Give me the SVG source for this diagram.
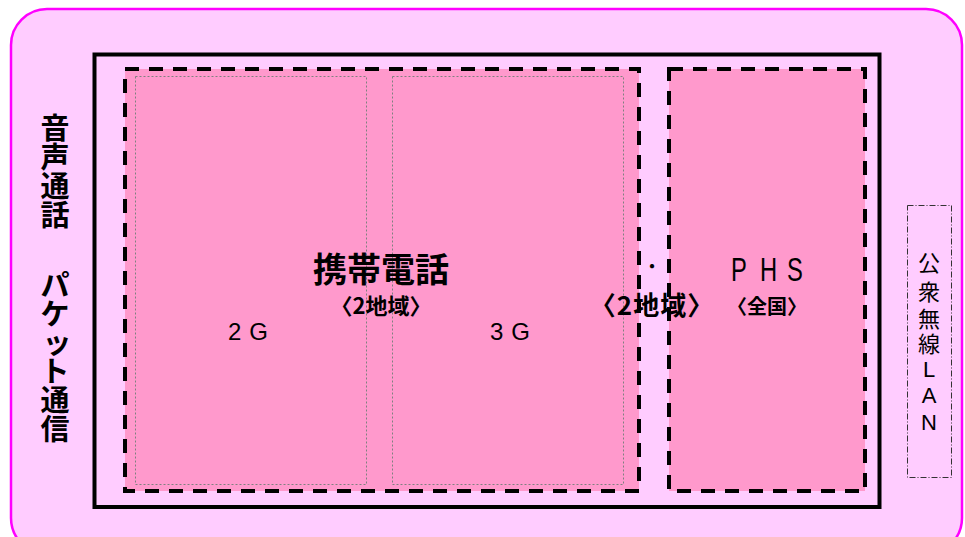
<svg xmlns="http://www.w3.org/2000/svg" width="965" height="537" viewBox="0 0 965 537">
<style>
.jp{font-family:"Noto Sans CJK JP","Noto Sans CJK SC",sans-serif;fill:#000}
.b{font-weight:bold}
.lat{font-family:"Liberation Sans","Noto Sans CJK JP",sans-serif;fill:#000}
.dash{fill:#FF99CC;stroke:#000;stroke-width:4;stroke-dasharray:14 10}
.dot{fill:none;stroke:#808080;stroke-width:1;stroke-dasharray:2 2}
</style>
<rect width="965" height="537" fill="#fff"/>
<g id="area">
<rect x="11" y="9" width="951" height="545" rx="36" ry="36" fill="#FFCCFF" stroke="#FF00FF" stroke-width="2.5"/>
<rect x="94.5" y="54.5" width="785" height="452.5" fill="none" stroke="#000" stroke-width="4"/>
</g>
<g id="label-voice-packet" class="jp b" font-size="29" text-anchor="middle">
<text x="55" y="139">音</text>
<text x="55" y="168">声</text>
<text x="55" y="197">通</text>
<text x="55" y="226">話</text>
<text x="55" y="296">パ</text>
<text x="55" y="325">ケ</text>
<text x="57" y="354">ッ</text>
<text x="55" y="382">ト</text>
<text x="55" y="411">通</text>
<text x="55" y="440">信</text>
</g>
<g id="cellular">
<rect class="dash" x="125" y="69" width="514" height="422"/>
</g>
<g id="node-2g">
<rect class="dot" x="135.5" y="76.5" width="231" height="408"/>
<text class="lat" x="252" y="340" font-size="24" text-anchor="middle" letter-spacing="8">2G</text>
</g>
<g id="node-3g">
<rect class="dot" x="392.5" y="76.5" width="231" height="408"/>
<text class="lat" x="514" y="340" font-size="24" text-anchor="middle" letter-spacing="8">3G</text>
</g>
<g id="cellular-label" class="jp b" text-anchor="middle">
<text x="381" y="282" font-size="34">携帯電話</text>
<text x="381" y="314" font-size="22">〈2地域〉</text>
</g>
<g id="phs">
<rect class="dash" x="669" y="69" width="196" height="422"/>
<text class="lat" font-size="33" transform="translate(731,281) scale(0.72,1)">P</text>
<text class="lat" font-size="33" transform="translate(760,281) scale(0.72,1)">H</text>
<text class="lat" font-size="33" transform="translate(787,281) scale(0.72,1)">S</text>
<text class="jp b" x="767" y="314" font-size="20" text-anchor="middle">〈全国〉</text>
</g>
<g id="phs-region-label" class="jp b" text-anchor="middle">
<text x="652" y="274" font-size="20" font-weight="normal">・</text>
<text x="652" y="315" font-size="26" letter-spacing="1">〈2地域〉</text>
</g>
<g id="public-wlan">
<rect x="907.5" y="205.5" width="44" height="272" fill="none" stroke="#333" stroke-width="1" stroke-dasharray="6 2 1 2"/>
<g class="jp" font-size="22" text-anchor="middle">
<text x="929" y="271">公</text>
<text x="929" y="300">衆</text>
<text x="929" y="327">無</text>
<text x="929" y="352">線</text>
<text class="lat" x="929" y="377">L</text>
<text class="lat" x="929" y="403">A</text>
<text class="lat" x="929" y="430">N</text>
</g>
</g>
<g id="connectors"/>
</svg>
